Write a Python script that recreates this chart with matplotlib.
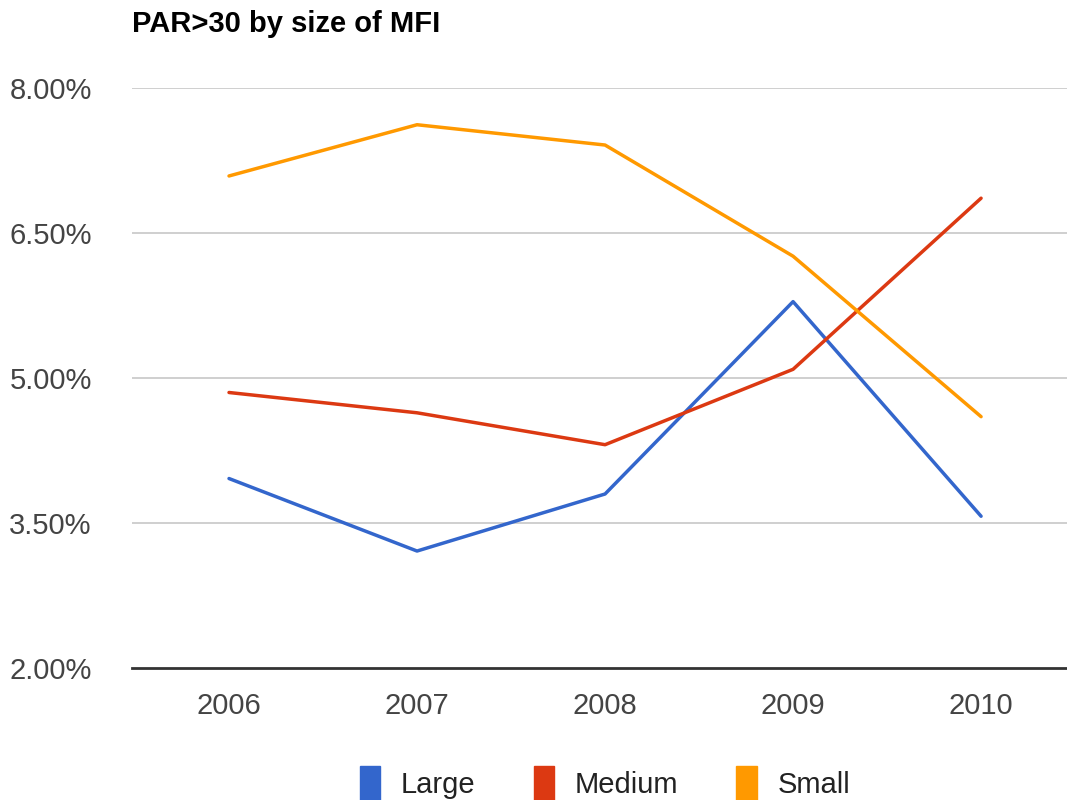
import matplotlib
matplotlib.use("Agg")
import matplotlib.pyplot as plt
from matplotlib.patches import Patch

plt.rcParams['font.family'] = ['Liberation Sans', 'DejaVu Sans']

years = ["2006", "2007", "2008", "2009", "2010"]
large = [3.96, 3.21, 3.80, 5.79, 3.57]
medium = [4.85, 4.64, 4.31, 5.09, 6.86]
small = [7.09, 7.62, 7.41, 6.26, 4.60]
y_ticks = [2.0, 3.5, 5.0, 6.5, 8.0]

series = [("Large", large, "#3366cc"),
          ("Medium", medium, "#dc3912"),
          ("Small", small, "#ff9900")]

fig = plt.figure(figsize=(10.67, 8), dpi=100)
ax = fig.add_axes([132 / 1067, 1 - 668 / 800, 1 - 132 / 1067, (668 - 88) / 800])

x = list(range(len(years)))
for name, vals, col in series:
    ax.plot(x, vals, color=col, lw=2.5, solid_capstyle='round', zorder=3)

ax.set_xlim(-0.516, 4.457)
ax.set_ylim(2.0, 8.0)
ax.set_yticks(y_ticks)
ax.set_yticklabels(["%.2f%%" % v for v in y_ticks])
ax.set_xticks(x)
ax.set_xticklabels(years)
for t in ax.get_yticks()[1:]:
    ax.axhline(t, color="#cccccc", lw=1.3, zorder=1)
ax.axhline(2.0, color="#333333", lw=2, zorder=4, clip_on=False)

for s in ax.spines.values():
    s.set_visible(False)
ax.tick_params(axis='both', length=0, labelsize=21, colors="#444444")
ax.tick_params(axis='y', pad=29)
ax.tick_params(axis='x', pad=17)

fig.text(132 / 1067, 1 - 24 / 800, "PAR>30 by size of MFI", fontsize=21,
         fontweight='bold', color="#000000", va='center', ha='left')

handles = [Patch(facecolor=c, edgecolor=c, label=n) for n, v, c in series]
fig.legend(handles=handles, loc='center', bbox_to_anchor=(605 / 1067, 1 - 783 / 800),
           ncol=3, frameon=False, fontsize=21, handlelength=0.7, handleheight=1.4,
           handletextpad=0.7, columnspacing=2.0, labelcolor="#222222")

fig.savefig("out.png", dpi=100)
